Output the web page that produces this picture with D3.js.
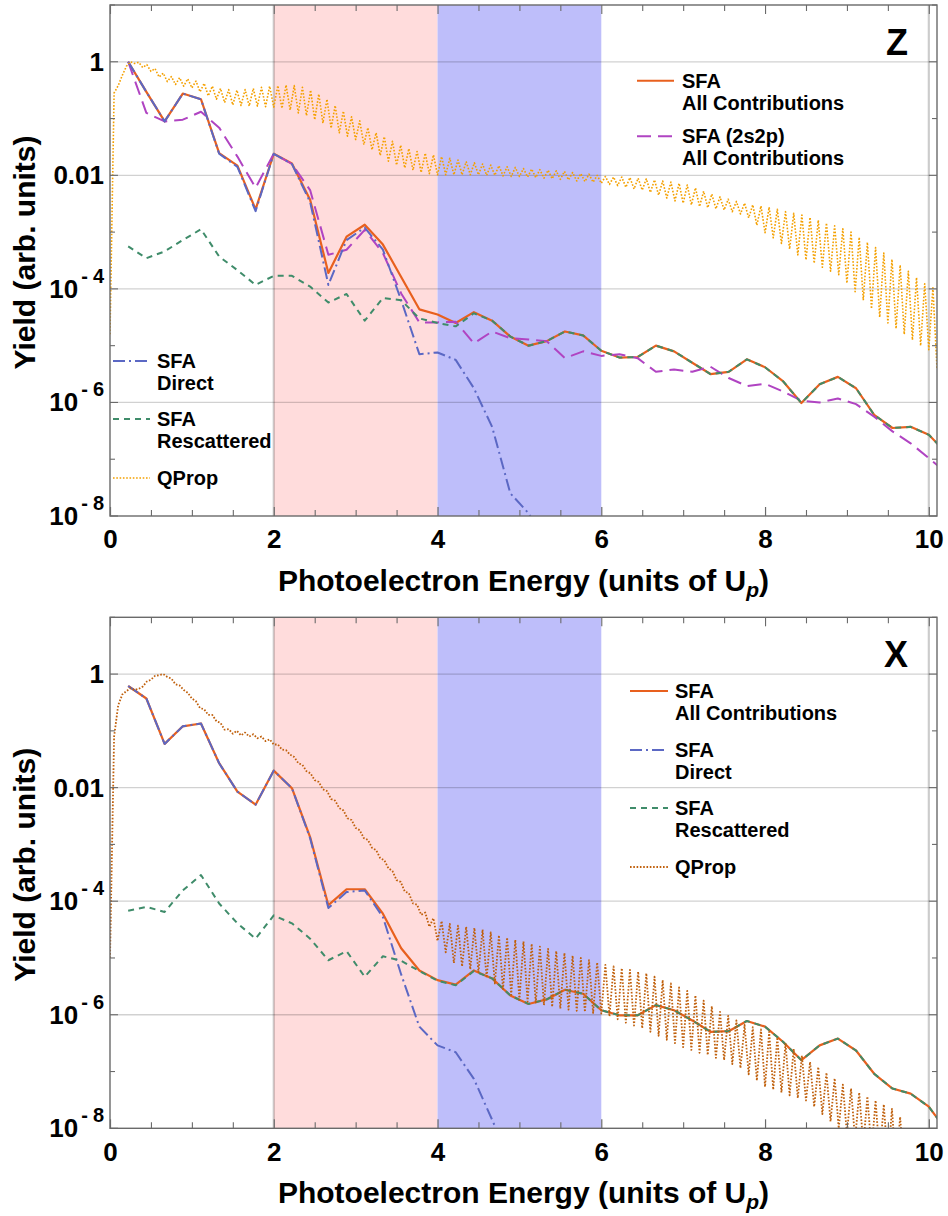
<!DOCTYPE html>
<html><head><meta charset="utf-8">
<script src="https://cdn.jsdelivr.net/npm/d3@7"></script>
<style>
body{margin:0;background:#fff;}
text{font-family:"Liberation Sans",Arial,Helvetica,sans-serif;font-weight:bold;fill:#000;}
</style>
</head><body>
<svg id="chart" width="948" height="1216"></svg>
<script>
// ---------- DATA (log10 of yield) ----------
const sfaEnergy = [0.222,0.444,0.667,0.889,1.111,1.333,1.556,1.778,2.0,2.222,2.444,2.667,2.889,3.111,3.333,3.556,3.778,4.0,4.222,4.444,4.667,4.889,5.111,5.333,5.556,5.778,6.0,6.222,6.444,6.667,6.889,7.111,7.333,7.556,7.778,8.0,8.222,8.444,8.667,8.889,9.111,9.333,9.556,9.778,10.0,10.222];

// Panel Z
const zSfaAll = [0,-0.53,-1.05,-0.56,-0.66,-1.61,-1.83,-2.6,-1.62,-1.79,-2.43,-3.72,-3.08,-2.87,-3.22,-3.79,-4.36,-4.45,-4.6,-4.41,-4.56,-4.84,-5.0,-4.92,-4.75,-4.82,-5.09,-5.21,-5.2,-5.0,-5.1,-5.3,-5.5,-5.46,-5.24,-5.38,-5.63,-6.01,-5.68,-5.55,-5.75,-6.22,-6.45,-6.43,-6.57,-6.9];
const zSfa2s2p = [0,-0.9,-1.05,-1.02,-0.88,-1.16,-1.67,-2.22,-1.62,-1.8,-2.26,-3.4,-3.31,-2.96,-3.37,-4.08,-4.59,-4.59,-4.58,-4.96,-4.75,-4.87,-4.89,-4.92,-5.22,-5.1,-5.18,-5.15,-5.22,-5.46,-5.42,-5.46,-5.37,-5.57,-5.71,-5.67,-5.81,-5.97,-6.0,-5.93,-6.03,-6.25,-6.51,-6.72,-6.98,-7.25];
const zSfaDirect = [0,-0.53,-1.05,-0.56,-0.66,-1.62,-1.85,-2.63,-1.62,-1.8,-2.47,-3.93,-3.14,-2.92,-3.31,-4.2,-5.15,-5.12,-5.25,-5.75,-6.43,-7.6,-7.95,-8.5,-9.2];
const zSfaRescattered = [-3.25,-3.46,-3.34,-3.14,-2.95,-3.43,-3.67,-3.93,-3.77,-3.77,-3.96,-4.24,-4.09,-4.56,-4.16,-4.2,-4.52,-4.6,-4.66,-4.43,-4.56,-4.84,-5.0,-4.92,-4.75,-4.82,-5.09,-5.21,-5.2,-5.0,-5.1,-5.3,-5.5,-5.46,-5.24,-5.38,-5.63,-6.01,-5.68,-5.55,-5.75,-6.22,-6.45,-6.43,-6.57,-6.9];
// QProp sampled every 0.05 Up from 0 (alternating trough / peak of the fast oscillation)
const qpropStep = 0.05;
const zQProp = [
-4.8,-0.55,-0.42,-0.24,-0.08,0.0,-0.03,-0.01,-0.1,-0.05,
-0.17,-0.12,-0.27,-0.2,-0.35,-0.26,-0.4,-0.28,-0.43,-0.3,
-0.46,-0.34,-0.53,-0.38,-0.6,-0.43,-0.66,-0.47,-0.72,-0.49,
-0.76,-0.5,-0.77,-0.49,-0.78,-0.47,-0.78,-0.45,-0.79,-0.43,
-0.8,-0.42,-0.82,-0.41,-0.85,-0.42,-0.9,-0.45,-0.95,-0.5,
-1.02,-0.57,-1.08,-0.66,-1.17,-0.77,-1.25,-0.87,-1.31,-0.97,
-1.37,-1.04,-1.46,-1.16,-1.55,-1.25,-1.65,-1.32,-1.75,-1.4,
-1.82,-1.47,-1.87,-1.53,-1.91,-1.58,-1.95,-1.61,-1.97,-1.64,
-1.99,-1.67,-1.99,-1.7,-1.99,-1.73,-1.99,-1.76,-1.99,-1.78,
-1.99,-1.8,-2.0,-1.82,-2.0,-1.83,-2.01,-1.85,-2.02,-1.86,
-2.02,-1.88,-2.03,-1.89,-2.04,-1.9,-2.05,-1.91,-2.06,-1.92,
-2.07,-1.93,-2.08,-1.95,-2.1,-1.97,-2.11,-1.98,-2.12,-2.0,
-2.14,-2.02,-2.16,-2.03,-2.18,-2.03,-2.21,-2.04,-2.24,-2.05,
-2.26,-2.06,-2.3,-2.08,-2.35,-2.1,-2.4,-2.12,-2.45,-2.14,
-2.49,-2.17,-2.52,-2.22,-2.55,-2.28,-2.57,-2.33,-2.59,-2.38,
-2.61,-2.42,-2.64,-2.46,-2.68,-2.49,-2.75,-2.52,-2.88,-2.54,
-3.01,-2.56,-3.1,-2.6,-3.2,-2.64,-3.3,-2.67,-3.4,-2.7,
-3.49,-2.74,-3.55,-2.79,-3.62,-2.84,-3.69,-2.89,-3.75,-2.94,
-3.9,-3.0,-4.05,-3.09,-4.2,-3.18,-4.35,-3.27,-4.5,-3.37,
-4.6,-3.48,-4.7,-3.58,-4.8,-3.69,-4.9,-3.8,-5.0,-3.91,
-5.07,-3.98,-5.4];

// Panel X
const xSfaAll = [-0.21,-0.43,-1.23,-0.92,-0.87,-1.57,-2.07,-2.3,-1.7,-2.01,-2.87,-4.07,-3.79,-3.79,-4.22,-4.83,-5.22,-5.39,-5.47,-5.22,-5.36,-5.66,-5.81,-5.73,-5.56,-5.63,-5.92,-6.01,-6.01,-5.83,-5.92,-6.1,-6.3,-6.29,-6.11,-6.21,-6.48,-6.8,-6.54,-6.42,-6.63,-7.04,-7.3,-7.39,-7.62,-8.05];
const xSfaDirect = [-0.21,-0.43,-1.23,-0.92,-0.87,-1.57,-2.07,-2.3,-1.7,-2.01,-2.89,-4.12,-3.84,-3.81,-4.28,-5.29,-6.21,-6.54,-6.66,-7.13,-7.85,-8.6];
const xSfaRescattered = [-4.17,-4.1,-4.19,-3.81,-3.54,-4.04,-4.39,-4.66,-4.25,-4.39,-4.66,-5.04,-4.88,-5.33,-4.97,-5.05,-5.23,-5.4,-5.48,-5.23,-5.36,-5.66,-5.81,-5.73,-5.56,-5.63,-5.92,-6.01,-6.01,-5.83,-5.92,-6.1,-6.3,-6.29,-6.11,-6.21,-6.48,-6.8,-6.54,-6.42,-6.63,-7.04,-7.3,-7.39,-7.62,-8.05];
const xQProp = [
-5.0,-1.1,-0.55,-0.36,-0.3,-0.25,-0.28,-0.26,-0.22,-0.13,
-0.1,-0.03,-0.02,0.0,-0.05,-0.08,-0.18,-0.2,-0.28,-0.33,
-0.43,-0.48,-0.6,-0.62,-0.72,-0.72,-0.83,-0.86,-0.98,-0.97,
-1.05,-1.0,-1.08,-1.03,-1.1,-1.06,-1.13,-1.1,-1.18,-1.15,
-1.24,-1.24,-1.33,-1.34,-1.42,-1.46,-1.57,-1.6,-1.71,-1.75,
-1.87,-1.9,-2.03,-2.06,-2.2,-2.23,-2.36,-2.4,-2.54,-2.57,
-2.71,-2.75,-2.89,-2.92,-3.06,-3.1,-3.24,-3.28,-3.42,-3.47,
-3.63,-3.66,-3.83,-3.86,-4.04,-4.06,-4.24,-4.2,-4.45,-4.3,
-4.7,-4.35,-4.9,-4.4,-5.09,-4.43,-5.15,-4.45,-5.2,-4.47,
-5.25,-4.5,-5.35,-4.55,-5.45,-4.6,-5.55,-4.64,-5.65,-4.68,
-5.74,-4.71,-5.77,-4.75,-5.8,-4.8,-5.83,-4.84,-5.86,-4.88,
-5.89,-4.91,-5.91,-4.96,-5.93,-5.0,-5.95,-5.04,-5.97,-5.08,
-5.98,-5.12,-6.03,-5.15,-6.08,-5.18,-6.14,-5.21,-6.19,-5.24,
-6.24,-5.27,-6.3,-5.33,-6.37,-5.39,-6.44,-5.45,-6.5,-5.52,
-6.57,-5.58,-6.62,-5.66,-6.67,-5.75,-6.71,-5.85,-6.76,-5.95,
-6.8,-6.02,-6.87,-6.1,-6.94,-6.18,-7.05,-6.22,-7.16,-6.26,
-7.27,-6.3,-7.32,-6.4,-7.37,-6.5,-7.42,-6.6,-7.47,-6.72,
-7.51,-6.83,-7.62,-6.92,-7.75,-7.02,-7.88,-7.12,-8.0,-7.23,
-8.1,-7.3,-8.2,-7.37,-8.3,-7.44,-8.4,-7.51,-8.5,-7.58,
-8.6,-7.66,-8.7,-7.8,-8.8,-8.05,-8.9,-8.2,-9.0,-8.35,
-9.1,-8.5,-9.2];

// Axes / annotations
const xMajorTicks = [0,2,4,6,8,10];
const xMinorTicks = [0.5,1,1.5,2.5,3,3.5,4.5,5,5.5,6.5,7,7.5,8.5,9,9.5];
const yLabelExponents = [0,-2,-4,-6,-8];
const yMinorExponents = [1,-1,-3,-5,-7];
const yGridExponents = [0,-2,-4,-6];
const xGridLines = [2,10];
const bands = [{from:2,to:4,color:"#ffdcdc"},{from:4,to:6,color:"#bebefa"}];

// ---------- STYLES ----------
const C = {
  all:"#e8601e", direct:"#5b68c4", resc:"#3f8c6a", p2s2p:"#b044c2",
  qpropZ:"#f4a000", qpropX:"#c0600c"
};
const dash = { solid:null, direct:"12,4,2,4", resc:"6,5", p2s2p:"14,7", dotted:"1.6,1.7" };

const svg = d3.select("#chart");
const L = 110, R = 937;
const x = d3.scaleLinear().domain([0,10.1]).range([L,R]);

function tickLabel(g, yv, e){
  const t = g.append("text").attr("x",104).attr("y",yv+9).attr("text-anchor","end").attr("font-size",26);
  if(e===0){ t.text("1"); }
  else if(e===-2){ t.text("0.01"); }
  else {
    t.append("tspan").text("10");
    t.append("tspan").attr("font-size",20).attr("dy",-15).attr("dx",3).text("-");
    t.append("tspan").attr("font-size",20).attr("dx",5).text(String(-e));
  }
}

function panel(cfg){
  const y = d3.scaleLog().domain([1e-8,10]).range([cfg.bottom,cfg.top]);
  const g = svg.append("g");
  const h = cfg.bottom - cfg.top;
  const defs = svg.append("defs");
  defs.append("clipPath").attr("id","clip"+cfg.id).append("rect")
    .attr("x",L).attr("y",cfg.top).attr("width",R-L).attr("height",h);

  bands.forEach(b=>{
    g.append("rect").attr("x",x(b.from)).attr("y",cfg.top)
     .attr("width",x(b.to)-x(b.from)).attr("height",h).attr("fill",b.color);
  });
  yGridExponents.forEach(e=>{
    g.append("line").attr("x1",L).attr("x2",R).attr("y1",y(10**e)).attr("y2",y(10**e))
     .attr("stroke","rgba(0,0,0,0.18)").attr("stroke-width",1.3);
  });
  xGridLines.forEach(v=>{
    g.append("line").attr("x1",x(v)).attr("x2",x(v)).attr("y1",cfg.top).attr("y2",cfg.bottom)
     .attr("stroke","rgba(0,0,0,0.2)").attr("stroke-width",2.2);
  });

  const cg = g.append("g").attr("clip-path","url(#clip"+cfg.id+")");
  const lineSfa = d3.line().x((d,i)=>x(sfaEnergy[i])).y(d=>y(10**d));
  const lineQ = d3.line().x((d,i)=>x(i*qpropStep)).y(d=>y(10**d));
  cfg.series.forEach(s=>{
    const p = cg.append("path").datum(s.data)
      .attr("d", s.q ? lineQ : lineSfa)
      .attr("fill","none").attr("stroke",s.color).attr("stroke-width",s.w||2)
      .attr("stroke-linejoin","round");
    if(s.dash) p.attr("stroke-dasharray",s.dash);
  });

  // frame
  g.append("rect").attr("x",L).attr("y",cfg.top).attr("width",R-L).attr("height",h)
   .attr("fill","none").attr("stroke","#6a6a6a").attr("stroke-width",1.4);

  // x ticks (bottom & top, inward)
  const ax = g.append("g").attr("transform",`translate(0,${cfg.bottom})`)
    .call(d3.axisBottom(x).tickValues(xMajorTicks).tickSize(-9).tickPadding(14).tickFormat(d3.format("d")));
  ax.select(".domain").remove();
  ax.selectAll(".tick line").attr("stroke","#6a6a6a").attr("stroke-width",1.2);
  ax.selectAll(".tick text").attr("font-size",26).attr("font-family",null);
  const axm = g.append("g").attr("transform",`translate(0,${cfg.bottom})`)
    .call(d3.axisBottom(x).tickValues(xMinorTicks).tickSize(-6).tickFormat(""));
  axm.select(".domain").remove();
  axm.selectAll(".tick line").attr("stroke","#6a6a6a").attr("stroke-width",1.1);
  [[xMajorTicks,9],[xMinorTicks,6]].forEach(([vals,len])=>{
    const at = g.append("g").attr("transform",`translate(0,${cfg.top})`)
      .call(d3.axisTop(x).tickValues(vals).tickSize(-len).tickFormat(""));
    at.select(".domain").remove();
    at.selectAll(".tick line").attr("stroke","#6a6a6a").attr("stroke-width",1.1);
  });
  // y ticks
  [[yLabelExponents,8],[yMinorExponents,5]].forEach(([ex,len])=>{
    ex.forEach(e=>{
      const yy = y(10**e);
      g.append("line").attr("x1",L).attr("x2",L+len).attr("y1",yy).attr("y2",yy).attr("stroke","#6a6a6a").attr("stroke-width",1.1);
      g.append("line").attr("x1",R-len).attr("x2",R).attr("y1",yy).attr("y2",yy).attr("stroke","#6a6a6a").attr("stroke-width",1.1);
    });
  });
  yLabelExponents.forEach(e=> tickLabel(g, y(10**e), e));

  // axis titles
  const xt = g.append("text").attr("x",(L+R)/2).attr("y",cfg.bottom+75).attr("text-anchor","middle").attr("font-size",30);
  xt.append("tspan").text("Photoelectron Energy (units of U");
  xt.append("tspan").attr("font-size",21).attr("font-style","italic").attr("dy",6).text("p");
  xt.append("tspan").attr("dy",-6).text(")");
  g.append("text").attr("transform",`translate(35,${(cfg.top+cfg.bottom)/2-8}) rotate(-90)`)
    .attr("text-anchor","middle").attr("font-size",30).text("Yield (arb. units)");

  // panel letter
  g.append("text").attr("x",908).attr("y",cfg.letterY).attr("text-anchor","end").attr("font-size",36).text(cfg.letter);

  // legends
  cfg.legend.forEach(it=>{
    const ln = g.append("line").attr("x1",it.x1).attr("x2",it.x2).attr("y1",it.ly).attr("y2",it.ly)
      .attr("stroke",it.color).attr("stroke-width",it.w||2);
    if(it.dash) ln.attr("stroke-dasharray",it.dash);
    it.lines.forEach((t,i)=>{
      g.append("text").attr("x",it.tx).attr("y",it.ly+7+i*21.8).attr("font-size",20).text(t);
    });
  });
}

panel({
  id:"Z", top:5, bottom:516, letter:"Z", letterY:55,
  series:[
    {data:zSfaAll, color:C.all, w:2.2},
    {data:zSfa2s2p, color:C.p2s2p, dash:dash.p2s2p, w:2},
    {data:zSfaDirect, color:C.direct, dash:dash.direct, w:2},
    {data:zSfaRescattered, color:C.resc, dash:dash.resc, w:2},
    {data:zQProp, color:C.qpropZ, dash:dash.dotted, w:1.6, q:true}
  ],
  legend:[
    {x1:637,x2:674,ly:80.7,tx:682,color:C.all,lines:["SFA","All Contributions"]},
    {x1:637,x2:674,ly:136.3,tx:682,color:C.p2s2p,dash:"14,7",lines:["SFA (2s2p)","All Contributions"]},
    {x1:113,x2:150,ly:361,tx:157,color:C.direct,dash:dash.direct,lines:["SFA","Direct"]},
    {x1:113,x2:150,ly:419,tx:157,color:C.resc,dash:dash.resc,lines:["SFA","Rescattered"]},
    {x1:113,x2:150,ly:478,tx:157,color:C.qpropZ,dash:dash.dotted,w:1.6,lines:["QProp"]}
  ]
});

panel({
  id:"X", top:617.3, bottom:1128.3, letter:"X", letterY:667,
  series:[
    {data:xSfaAll, color:C.all, w:2.2},
    {data:xSfaDirect, color:C.direct, dash:dash.direct, w:2},
    {data:xSfaRescattered, color:C.resc, dash:dash.resc, w:2},
    {data:xQProp, color:C.qpropX, dash:dash.dotted, w:1.8, q:true}
  ],
  legend:[
    {x1:630,x2:668,ly:691,tx:675,color:C.all,lines:["SFA","All Contributions"]},
    {x1:630,x2:668,ly:750,tx:675,color:C.direct,dash:dash.direct,lines:["SFA","Direct"]},
    {x1:630,x2:668,ly:808,tx:675,color:C.resc,dash:dash.resc,lines:["SFA","Rescattered"]},
    {x1:630,x2:668,ly:867,tx:675,color:C.qpropX,dash:dash.dotted,w:1.8,lines:["QProp"]}
  ]
});
</script>
</body></html>
